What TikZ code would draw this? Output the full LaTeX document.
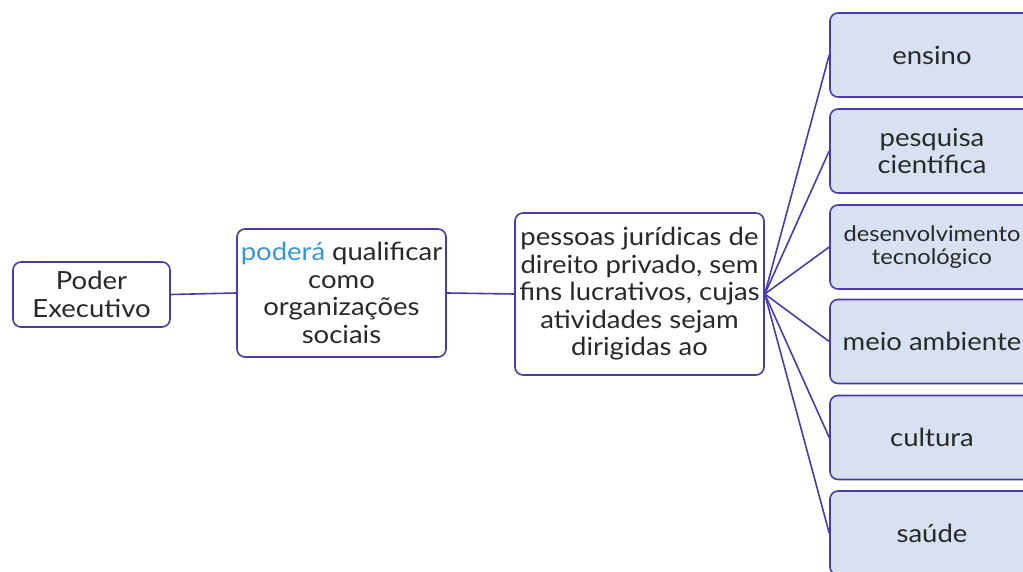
\documentclass[tikz,border=0pt]{standalone}
\usepackage{fontspec}
\setmainfont{Lato}[FakeStretch=1.1]
\definecolor{edge}{RGB}{72,60,170}
\definecolor{leaf}{RGB}{216,225,242}
\definecolor{blu}{RGB}{52,150,212}
\definecolor{txt}{RGB}{40,40,40}
\begin{document}
\begin{tikzpicture}[x=1pt,y=-1pt,
  box/.style={draw=edge,line width=1.6pt,rounded corners=8pt,align=center,text=txt,inner sep=0pt,font=\fontsize{25}{27.5}\selectfont},
  leafbox/.style={box,fill=leaf,minimum width=204pt,minimum height=84pt},
  link/.style={draw=edge,line width=1.6pt}]
\clip (0,0) rectangle (1023,572);
\node[box,minimum width=157pt,minimum height=65pt] (pe) at (91.5,294.5) {Poder\\Executivo};
\node[box,minimum width=209pt,minimum height=128pt] (pq) at (341.5,293) {\textcolor{blu}{poderá} qualificar\\como\\organizações\\sociais};
\node[box,minimum width=249pt,minimum height=162pt] (pj) at (639.5,294) {pessoas jurídicas de\\direito privado, sem\\fins lucrativos, cujas\\atividades sejam\\dirigidas ao};
\node[leafbox] (l1) at (932,55) {ensino};
\node[leafbox] (l2) at (932,151) {pesquisa\\científica};
\node[leafbox,font=\fontsize{21.5}{23}\selectfont] (l3) at (932,247) {desenvolvimento\\tecnológico};
\node[leafbox] (l4) at (932,341.5) {meio ambiente};
\node[leafbox] (l5) at (932,437.5) {cultura};
\node[leafbox] (l6) at (932,533) {saúde};
\draw[link] (pe.east) -- (pq.west);
\draw[link] (pq.east) -- (pj.west);
\foreach \n in {l1,l2,l3,l4,l5,l6}{\draw[link] (pj.east) -- (\n.west);}
\end{tikzpicture}
\end{document}
